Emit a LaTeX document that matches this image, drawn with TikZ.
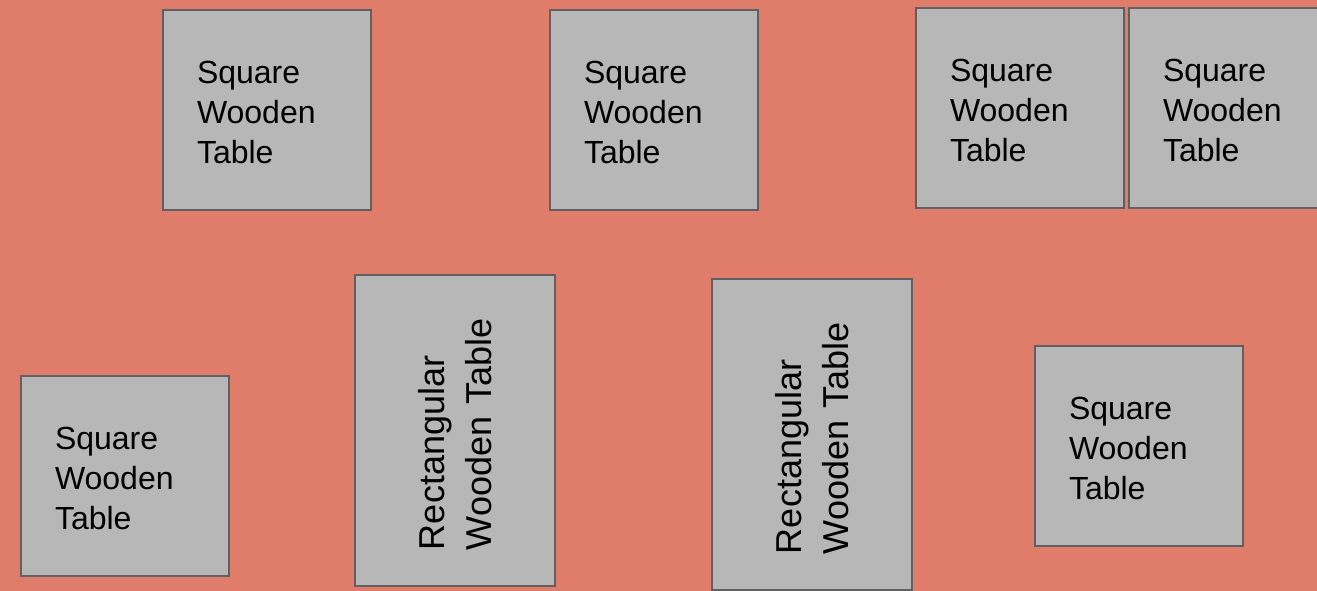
\documentclass[tikz,border=0pt]{standalone}
\usepackage{fontspec}
\setmainfont{Liberation Sans}
\usepackage{xcolor}
\definecolor{floorred}{RGB}{224,125,106}
\definecolor{tablegray}{RGB}{183,183,183}
\definecolor{tableedge}{RGB}{96,96,96}

\begin{document}
\begin{tikzpicture}[x=0.75pt, y=-0.75pt,
  sqtable/.style={draw=tableedge, fill=tablegray, line width=1.6pt, minimum height=150pt,
    inner xsep=25.5pt, text width=105pt, align=left, font=\fontsize{24}{30}\selectfont},
  recttable/.style={draw=tableedge, fill=tablegray, line width=1.6pt, rotate=90,
    minimum width=233.25pt, minimum height=150pt, inner xsep=27pt, text width=179.25pt,
    align=left, font=\fontsize{27}{35.25}\selectfont}]
  % floor, picture is clipped to it
  \fill[floorred] (0,0) rectangle (1317,591);
  \useasboundingbox (0,0) rectangle (1317,591);
  \clip (0,0) rectangle (1317,591);
  % top row of square tables
  \node[sqtable] (sq1) at (267,110)  {\rule{0pt}{21pt}Square\\Wooden\\Table};
  \node[sqtable] (sq2) at (654,110)  {\rule{0pt}{21pt}Square\\Wooden\\Table};
  \node[sqtable] (sq3) at (1020,108) {\rule{0pt}{21pt}Square\\Wooden\\Table};
  \node[sqtable] (sq4) at (1233,108) {\rule{0pt}{21pt}Square\\Wooden\\Table};
  % bottom row
  \node[sqtable] (sq5) at (125,476)  {\rule{0pt}{21pt}Square\\Wooden\\Table};
  \node[recttable] (rt1) at (455,430.5) {Rectangular\\Wooden Table};
  \node[recttable] (rt2) at (812,434.5) {Rectangular\\Wooden Table};
  \node[sqtable] (sq6) at (1139,446) {\rule{0pt}{21pt}Square\\Wooden\\Table};
\end{tikzpicture}
\end{document}
